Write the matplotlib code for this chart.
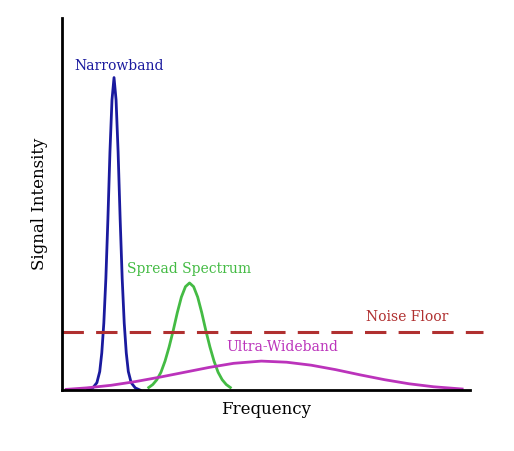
import matplotlib.pyplot as plt

# curves (x: 0-100 frequency units, y: 0-100 intensity)
narrow_x = [6.3, 7.5, 8.5, 9.2, 9.7, 10.2, 10.7, 11.2, 11.7, 12.2, 12.7,
            13.2, 13.7, 14.2, 14.7, 15.2, 15.7, 16.2, 16.9, 17.9, 19.1]
narrow_y = [0, 0.6, 2, 5, 10, 18, 30, 46, 64, 78, 84,
            78, 64, 46, 30, 18, 10, 5, 2, 0.6, 0]
spread_x = [21.2, 22.2, 23.2, 24.2, 25.2, 26.2, 27.2, 28.2, 29.2, 30.2, 31.2,
            32.2, 33.2, 34.2, 35.2, 36.2, 37.2, 38.2, 39.2, 40.2, 41.2]
spread_y = [0.7, 1.5, 2.8, 4.8, 7.8, 11.6, 16, 20.8, 25, 27.8, 28.8,
            27.8, 25, 20.8, 16, 11.6, 7.8, 4.8, 2.8, 1.5, 0.7]
uwb_x = [1, 6, 12, 18, 24, 30, 36, 42, 48.8, 55, 61, 67, 73, 79, 85, 91, 98]
uwb_y = [0.2, 0.6, 1.3, 2.3, 3.5, 4.8, 6.1, 7.2, 7.8, 7.5, 6.7, 5.5, 4.1, 2.8, 1.7, 0.9, 0.3]
noise_x = [0, 103]
noise_y = [15.6, 15.6]

fig = plt.figure(figsize=(5.14, 4.51), dpi=100)
ax = fig.add_axes([0.121, 0.135, 0.794, 0.825])

ax.plot(narrow_x, narrow_y, color='#1a1a9e', lw=2, solid_joinstyle='round')
ax.plot(spread_x, spread_y, color='#44bb44', lw=2, solid_joinstyle='round')
ax.plot(uwb_x, uwb_y, color='#bb33bb', lw=2, solid_joinstyle='round')
ax.plot(noise_x, noise_y, color='#b03030', lw=2.2, dashes=(7, 4), clip_on=False)

ax.text(14, 86, 'Narrowband', color='#1a1a9e', ha='center', fontsize=10, family='DejaVu Serif')
ax.text(31, 31.5, 'Spread Spectrum', color='#44bb44', ha='center', fontsize=10, family='DejaVu Serif')
ax.text(84.5, 18.5, 'Noise Floor', color='#b03030', ha='center', fontsize=10, family='DejaVu Serif')
ax.text(54, 10.5, 'Ultra-Wideband', color='#bb33bb', ha='center', fontsize=10, family='DejaVu Serif')

ax.set_xlim(0, 100)
ax.set_ylim(0, 100)
ax.set_xticks([])
ax.set_yticks([])
ax.spines['top'].set_visible(False)
ax.spines['right'].set_visible(False)
ax.spines['left'].set_linewidth(2)
ax.spines['bottom'].set_linewidth(2)
ax.set_xlabel('Frequency', fontsize=12, family='DejaVu Serif', labelpad=8)
ax.set_ylabel('Signal Intensity', fontsize=12, family='DejaVu Serif', labelpad=10)

plt.savefig('out.png', dpi=100)
